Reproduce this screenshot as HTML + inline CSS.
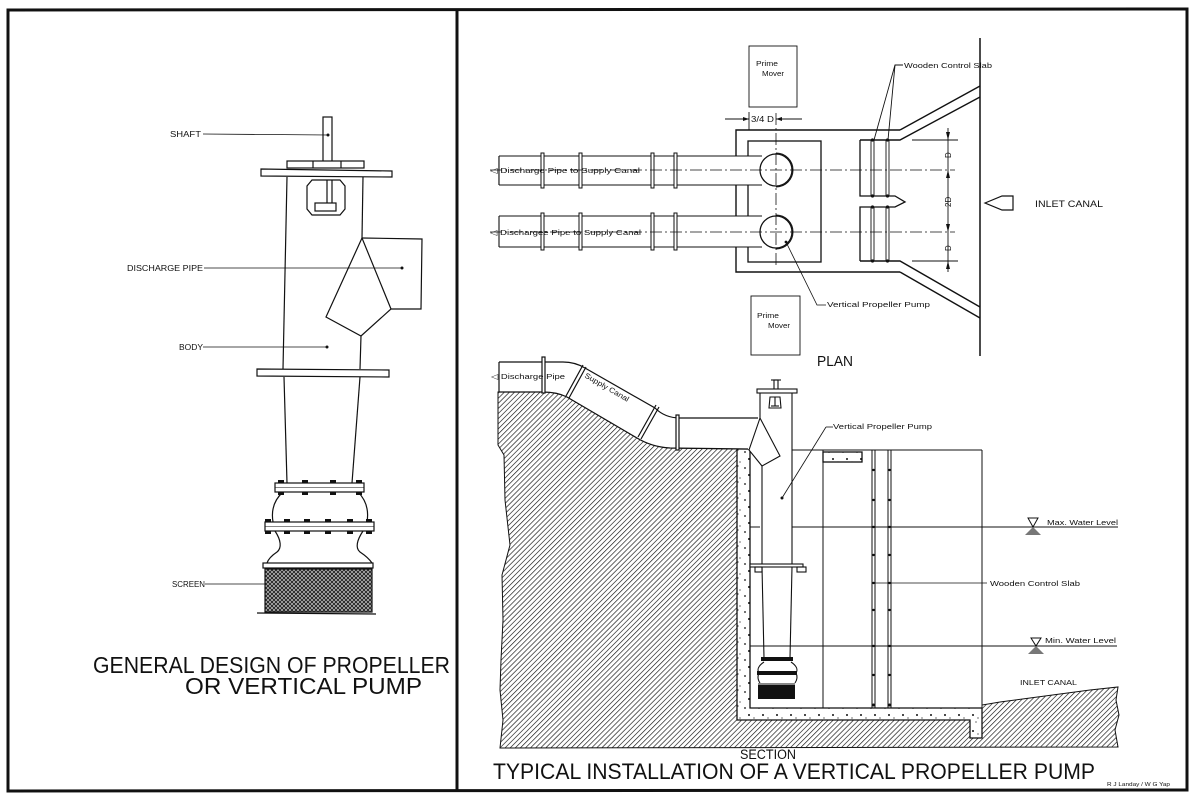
<!DOCTYPE html>
<html>
<head>
<meta charset="utf-8">
<style>
  html,body{margin:0;padding:0;background:#fff;}
  svg{display:block;}
  text{font-family:"Liberation Sans",sans-serif;fill:#111;}
</style>
</head>
<body>
<svg width="1200" height="809" viewBox="0 0 1200 809" xmlns="http://www.w3.org/2000/svg">
  <defs>
    <pattern id="hatch" patternUnits="userSpaceOnUse" width="3.6" height="3.6" patternTransform="rotate(45)">
      <line x1="0" y1="0" x2="0" y2="3.6" stroke="#111" stroke-width="1.3"/>
    </pattern>
    <pattern id="screen" patternUnits="userSpaceOnUse" width="4" height="4">
      <rect width="4" height="4" fill="#222"/>
      <path d="M0,4 L4,0 M0,0 L4,4" stroke="#ddd" stroke-width="0.6"/>
    </pattern>
    <pattern id="conc" patternUnits="userSpaceOnUse" width="14" height="16">
      <circle cx="3" cy="4" r="0.9" fill="#111"/>
      <circle cx="10" cy="2" r="0.6" fill="#111"/>
      <circle cx="7" cy="11" r="1" fill="#111"/>
      <circle cx="12" cy="14" r="0.6" fill="#111"/>
    </pattern>
  </defs>

  <rect width="1200" height="809" fill="#fff"/>

  <!-- Frame -->
  <g stroke="#111" stroke-width="3" fill="none">
    <path d="M8,10 L1187,9 L1187,790 L8,791 Z"/>
    <line x1="457" y1="9" x2="457" y2="791"/>
  </g>

  <!-- ================= LEFT PANEL: pump ================= -->
  <g stroke="#111" stroke-width="1.2" fill="none">
    <!-- shaft -->
    <rect x="323" y="117" width="9" height="45" fill="#fff"/>
    <!-- top cap -->
    <rect x="287" y="161" width="77" height="7" fill="#fff"/>
    <line x1="313" y1="161" x2="313" y2="168"/>
    <line x1="341" y1="161" x2="341" y2="168"/>
    <!-- top flange -->
    <path d="M261,169 L392,171 L392,177 L261,176 Z" fill="#fff"/>
    <!-- body -->
    <line x1="287" y1="177" x2="283" y2="369"/>
    <line x1="363" y1="177" x2="362" y2="238"/>
    <line x1="361" y1="336" x2="360" y2="369"/>
    <!-- window -->
    <path d="M312,180 L340,180 L345,186 L345,209 L340,215 L312,215 L307,209 L307,186 Z"/>
    <line x1="327" y1="180" x2="327" y2="203"/>
    <line x1="332" y1="180" x2="332" y2="203"/>
    <rect x="315" y="203" width="21" height="8"/>
    <!-- discharge -->
    <path d="M362,238 L326,317 L361,336 L391,309 Z" fill="#fff"/>
    <path d="M362,238 L422,239 L421,309 L391,309"/>
    <!-- lower flange -->
    <path d="M257,369 L389,370 L389,377 L257,376 Z" fill="#fff"/>
    <!-- lower body -->
    <line x1="284" y1="377" x2="287" y2="483"/>
    <line x1="360" y1="377" x2="352" y2="483"/>
    <!-- bolted flange 1 -->
    <rect x="275" y="483" width="89" height="9" fill="#fff"/>
    <line x1="275" y1="487.5" x2="364" y2="487.5" stroke-width="0.6"/>
    <!-- bell -->
    <path d="M283,492 C274,500 271,510 273,522"/>
    <path d="M358,492 C366,500 369,510 367,522"/>
    <!-- bolted flange 2 -->
    <rect x="265" y="522" width="109" height="9" fill="#fff"/>
    <line x1="265" y1="526.5" x2="374" y2="526.5" stroke-width="0.6"/>
    <path d="M275,531 C281,540 282,548 277,552 C271,556 268,560 267,563"/>
    <path d="M363,531 C357,540 355,548 360,552 C366,556 370,560 372,563"/>
    <!-- screen -->
    <rect x="263" y="563" width="110" height="5" fill="#fff"/>
    <rect x="265" y="569" width="107" height="43" fill="url(#screen)"/>
    <line x1="257" y1="613" x2="376" y2="614"/>
  </g>
  <!-- bolts -->
  <g fill="#111">
    <rect x="278" y="480" width="6" height="3"/><rect x="302" y="480" width="6" height="3"/><rect x="330" y="480" width="6" height="3"/><rect x="356" y="480" width="6" height="3"/>
    <rect x="278" y="492" width="6" height="3"/><rect x="302" y="492" width="6" height="3"/><rect x="330" y="492" width="6" height="3"/><rect x="356" y="492" width="6" height="3"/>
    <rect x="265" y="519" width="6" height="3"/><rect x="284" y="519" width="6" height="3"/><rect x="304" y="519" width="6" height="3"/><rect x="325" y="519" width="6" height="3"/><rect x="347" y="519" width="6" height="3"/><rect x="366" y="519" width="6" height="3"/>
    <rect x="265" y="531" width="6" height="3"/><rect x="284" y="531" width="6" height="3"/><rect x="304" y="531" width="6" height="3"/><rect x="325" y="531" width="6" height="3"/><rect x="347" y="531" width="6" height="3"/><rect x="366" y="531" width="6" height="3"/>
  </g>
  <!-- left labels -->
  <g stroke="#111" stroke-width="0.8">
    <line x1="203" y1="134" x2="328" y2="135"/>
    <line x1="204" y1="268" x2="402" y2="268"/>
    <line x1="203" y1="347" x2="327" y2="347"/>
    <line x1="205" y1="584" x2="265" y2="584"/>
  </g>
  <g fill="#111">
    <circle cx="328" cy="135" r="1.5"/>
    <circle cx="402" cy="268" r="1.5"/>
    <circle cx="327" cy="347" r="1.5"/>
  </g>
  <g font-size="8">
    <text x="170" y="137" textLength="31" lengthAdjust="spacingAndGlyphs">SHAFT</text>
    <text x="127" y="271" textLength="76" lengthAdjust="spacingAndGlyphs">DISCHARGE PIPE</text>
    <text x="179" y="350" textLength="24" lengthAdjust="spacingAndGlyphs">BODY</text>
    <text x="172" y="587" textLength="33" lengthAdjust="spacingAndGlyphs">SCREEN</text>
  </g>
  <text x="93" y="673" font-size="23.5" textLength="357" lengthAdjust="spacingAndGlyphs">GENERAL DESIGN OF PROPELLER</text>
  <text x="185" y="694" font-size="23.5" textLength="237" lengthAdjust="spacingAndGlyphs">OR VERTICAL PUMP</text>

  <!-- ================= RIGHT PANEL: PLAN ================= -->
  <g stroke="#111" stroke-width="0.9" fill="none">
    <!-- prime movers -->
    <rect x="749" y="46" width="48" height="61"/>
    <rect x="751" y="296" width="49" height="59"/>
    <!-- 3/4 D dim -->
    <line x1="725" y1="119" x2="749" y2="119"/>
    <line x1="776" y1="119" x2="802" y2="119"/>
    <line x1="749" y1="112" x2="749" y2="130"/>
    <!-- wall at right -->
    <line x1="980" y1="38" x2="980" y2="356" stroke-width="1.5"/>
    <!-- outer rect & wing walls -->
    <path d="M900,130 L736,130 L736,272 L900,272" stroke-width="1.4"/>
    <path d="M900,130 L980,86" stroke-width="1.4"/>
    <path d="M900,272 L980,318" stroke-width="1.4"/>
    <path d="M860,140 L900,140 L980,97" stroke-width="1.4"/>
    <path d="M860,261 L900,261 L980,307" stroke-width="1.4"/>
    <!-- inner rect -->
    <rect x="748" y="141" width="73" height="121" stroke-width="1.3"/>
    <!-- slab boxes -->
    <path d="M860,140 L860,196 L895,196 L905,202 L895,207 L860,207 L860,261" stroke-width="1.3"/>
    <!-- slabs -->
    <line x1="871" y1="140" x2="871" y2="196"/><line x1="874" y1="140" x2="874" y2="196"/>
    <line x1="886" y1="140" x2="886" y2="196"/><line x1="889" y1="140" x2="889" y2="196"/>
    <line x1="871" y1="207" x2="871" y2="261"/><line x1="874" y1="207" x2="874" y2="261"/>
    <line x1="886" y1="207" x2="886" y2="261"/><line x1="889" y1="207" x2="889" y2="261"/>
    <!-- slab label leaders -->
    <path d="M903,65 L895,65 L874,140"/>
    <path d="M895,65 L888,140"/>
    <!-- dimension -->
    <line x1="948" y1="128" x2="948" y2="272"/>
    <line x1="912" y1="140" x2="958" y2="140"/>
    <line x1="912" y1="261" x2="958" y2="261"/>
    <!-- inlet arrow -->
    <path d="M985,203 L1002,196 L1013,196 L1013,210 L1002,210 Z" stroke-width="1.2"/>
  </g>
  <g fill="#111">
    <circle cx="872.5" cy="140" r="1.6"/><circle cx="887.5" cy="140" r="1.6"/>
    <circle cx="872.5" cy="196" r="1.6"/><circle cx="887.5" cy="196" r="1.6"/>
    <circle cx="872.5" cy="207" r="1.6"/><circle cx="887.5" cy="207" r="1.6"/>
    <circle cx="872.5" cy="261" r="1.6"/><circle cx="887.5" cy="261" r="1.6"/>
    <path d="M749,119 l-6,-2 l0,4 Z"/>
    <path d="M776,119 l6,-2 l0,4 Z"/>
    <path d="M948,140 l-2,-8 l4,0 Z"/><path d="M948,170 l-2,8 l4,0 Z"/>
    <path d="M948,232 l-2,-8 l4,0 Z"/><path d="M948,261 l-2,8 l4,0 Z"/>
  </g>
  <!-- pipes (plan) -->
  <g stroke="#111" stroke-width="1.1" fill="#fff">
    <path d="M499,156 L762,156 M499,185 L762,185 M499,156 L499,185" />
    <rect x="499" y="156" width="263" height="29" stroke="none"/>
    <path d="M499,156 L762,156 M499,185 L762,185 M499,156 L499,185" fill="none"/>
    <rect x="499" y="216" width="263" height="31" stroke="none"/>
    <path d="M499,216 L762,216 M499,247 L762,247 M499,216 L499,247" fill="none"/>
  </g>
  <g stroke="#111" stroke-width="1" fill="#fff">
    <rect x="541" y="153" width="3" height="35"/><rect x="579" y="153" width="3" height="35"/>
    <rect x="651" y="153" width="3" height="35"/><rect x="674" y="153" width="3" height="35"/>
    <rect x="541" y="213" width="3" height="37"/><rect x="579" y="213" width="3" height="37"/>
    <rect x="651" y="213" width="3" height="37"/><rect x="674" y="213" width="3" height="37"/>
    <!-- circles -->
    <circle cx="776" cy="170" r="16" stroke-width="1.3"/>
    <path d="M776,153 A17,17 0 0 1 776,187" fill="none"/>
    <circle cx="776" cy="232" r="16" stroke-width="1.3"/>
    <path d="M776,215 A17,17 0 0 1 776,249" fill="none"/>
  </g>
  <!-- centerlines -->
  <g stroke="#111" stroke-width="0.8" stroke-dasharray="12 3 2 3" fill="none">
    <line x1="490" y1="170" x2="955" y2="170"/>
    <line x1="490" y1="232" x2="955" y2="232"/>
    <line x1="776" y1="113" x2="776" y2="268"/>
  </g>
  <!-- pump leader -->
  <path d="M786,242 L817,305 L826,305" stroke="#111" stroke-width="0.8" fill="none"/>
  <circle cx="786" cy="242" r="1.4" fill="#111"/>
  <g font-size="7.5">
    <text x="756" y="66" textLength="22" lengthAdjust="spacingAndGlyphs">Prime</text>
    <text x="762" y="76" textLength="22" lengthAdjust="spacingAndGlyphs">Mover</text>
    <text x="757" y="318" textLength="22" lengthAdjust="spacingAndGlyphs">Prime</text>
    <text x="768" y="328" textLength="22" lengthAdjust="spacingAndGlyphs">Mover</text>
    <text x="751" y="122" font-size="8.5" textLength="23" lengthAdjust="spacingAndGlyphs">3/4 D</text>
    <text x="904" y="68" textLength="88" lengthAdjust="spacingAndGlyphs">Wooden Control Slab</text>
    <text x="827" y="307" textLength="103" lengthAdjust="spacingAndGlyphs">Vertical Propeller Pump</text>
    <text x="490" y="173" textLength="150" lengthAdjust="spacingAndGlyphs">◁ Discharge  Pipe  to  Supply  Canal</text>
    <text x="490" y="235" textLength="151" lengthAdjust="spacingAndGlyphs">◁ Dischargee  Pipe  to  Supply  Canal</text>
  </g>
  <g font-size="8">
    <text transform="translate(951,158) rotate(-90)">D</text>
    <text transform="translate(951,207) rotate(-90)">2D</text>
    <text transform="translate(951,251) rotate(-90)">D</text>
  </g>
  <text x="1035" y="207" font-size="9" textLength="68" lengthAdjust="spacingAndGlyphs">INLET   CANAL</text>
  <text x="817" y="366" font-size="14.5" textLength="36" lengthAdjust="spacingAndGlyphs">PLAN</text>

  <!-- ================= RIGHT PANEL: SECTION ================= -->
  <!-- ground hatch -->
  <path d="M498,392 L543,392 Q557,392 567,397 L637,438 Q652,447 670,448 L737,449 L737,720 L970,720 L970,738 L982,738 L982,705 L1000,702 L1030,698 L1060,694 L1090,690 L1118,687 L1116,700 L1119,715 L1115,730 L1118,747 L500,748 L503,720 L500,690 L501,660 L503,620 L502,575 L510,545 L505,500 L504,455 L498,445 Z" fill="url(#hatch)" stroke="#111" stroke-width="1"/>
  <!-- concrete -->
  <path d="M737,449 L750,449 L750,708 L982,708 L982,738 L970,738 L970,720 L737,720 Z" fill="#fff"/>
  <path d="M737,449 L750,449 L750,708 L982,708 L982,738 L970,738 L970,720 L737,720 Z" fill="url(#conc)" stroke="#111" stroke-width="1.3"/>

  <!-- pipe section -->
  <path d="M499,362 L563,362 Q575,362 585,368 L655,408 Q665,418 680,418 L758,418 L749,449 L670,448 Q652,447 637,438 L567,397 Q557,392 543,392 L499,392 Z" fill="#fff" stroke="none"/>
  <g stroke="#111" stroke-width="1.2" fill="none">
    <path d="M499,362 L563,362 Q575,362 585,368 L655,408 Q665,418 680,418 L758,418"/>
    <path d="M499,392 L543,392 Q557,392 567,397 L637,438 Q652,447 670,448 L748,449"/>
    <line x1="499" y1="362" x2="499" y2="392"/>
    <rect x="542" y="357" width="3" height="36" fill="#fff"/>
    <path d="M583,365 L566,396 M586,367 L569,398" />
    <path d="M656,405 L638,437 M659,407 L641,439" />
    <rect x="676" y="415" width="3" height="35" fill="#fff"/>
  </g>
  <g font-size="7.5">
    <text x="491" y="379" textLength="74" lengthAdjust="spacingAndGlyphs">◁ Discharge  Pipe</text>
    <text transform="translate(584,377) rotate(30)" textLength="50" lengthAdjust="spacingAndGlyphs">Supply  Canal</text>
  </g>

  <!-- pump section -->
  <g stroke="#111" stroke-width="1.1" fill="none">
    <rect x="774" y="380" width="4" height="10" fill="#fff"/>
    <line x1="771" y1="380" x2="781" y2="380"/>
    <rect x="757" y="389" width="40" height="4" fill="#fff"/>
    <line x1="760" y1="393" x2="760" y2="418"/>
    <line x1="762" y1="466" x2="762" y2="564"/>
    <line x1="792" y1="393" x2="792" y2="564"/>
    <path d="M770,397 L780,397 L781,408 L769,408 Z"/>
    <line x1="775" y1="397" x2="775" y2="406"/>
    <line x1="771" y1="406" x2="779" y2="406"/>
    <path d="M760,418 L749,450 L762,466 L780,456 Z" fill="#fff"/>
    <rect x="750" y="564" width="53" height="3" fill="#fff"/>
    <rect x="755" y="567" width="7" height="5"/>
    <rect x="797" y="567" width="9" height="5"/>
    <line x1="762" y1="567" x2="764" y2="658"/>
    <line x1="792" y1="567" x2="790" y2="658"/>
    <path d="M764,662 C758,666 757,670 759,673 C757,677 758,680 760,683"/>
    <path d="M791,662 C797,666 798,670 796,673 C798,677 797,680 795,683"/>
  </g>
  <g fill="#111">
    <rect x="761" y="657" width="32" height="4"/>
    <rect x="757" y="671" width="40" height="4"/>
    <rect x="758" y="683" width="37" height="16"/>
  </g>
  <line x1="758" y1="684" x2="795" y2="684" stroke="#fff" stroke-width="1"/>

  <!-- section lines -->
  <g stroke="#111" stroke-width="1" fill="none">
    <line x1="792" y1="450" x2="982" y2="450"/>
    <line x1="823" y1="450" x2="823" y2="708"/>
    <line x1="982" y1="450" x2="982" y2="705"/>
    <line x1="792" y1="527" x2="1118" y2="527"/>
    <line x1="750" y1="527" x2="760" y2="527"/>
    <line x1="750" y1="646" x2="1117" y2="646"/>
    <line x1="875" y1="583" x2="987" y2="583" stroke-width="0.8"/>
    <line x1="872" y1="450" x2="872" y2="708"/><line x1="875" y1="450" x2="875" y2="708"/>
    <line x1="888" y1="450" x2="888" y2="708"/><line x1="891" y1="450" x2="891" y2="708"/>
    <rect x="823" y="452" width="39" height="10" fill="url(#conc)" stroke-width="1.3"/>
    <path d="M826,427 L782,498" stroke-width="0.8"/>
    <line x1="826" y1="427" x2="833" y2="427" stroke-width="0.8"/>
  </g>
  <g fill="#111">
    <circle cx="782" cy="498" r="1.5"/>
    <circle cx="873.5" cy="470" r="1.2"/><circle cx="873.5" cy="500" r="1.2"/><circle cx="873.5" cy="527" r="1.2"/><circle cx="873.5" cy="555" r="1.2"/><circle cx="873.5" cy="583" r="1.2"/><circle cx="873.5" cy="610" r="1.2"/><circle cx="873.5" cy="646" r="1.2"/><circle cx="873.5" cy="675" r="1.2"/><circle cx="873.5" cy="705" r="1.5"/>
    <circle cx="889.5" cy="470" r="1.2"/><circle cx="889.5" cy="500" r="1.2"/><circle cx="889.5" cy="527" r="1.2"/><circle cx="889.5" cy="555" r="1.2"/><circle cx="889.5" cy="583" r="1.2"/><circle cx="889.5" cy="610" r="1.2"/><circle cx="889.5" cy="646" r="1.2"/><circle cx="889.5" cy="675" r="1.2"/><circle cx="889.5" cy="705" r="1.5"/>
  </g>
  <!-- water level symbols -->
  <g stroke="#111" stroke-width="1" fill="none">
    <path d="M1028,518 L1038,518 L1033,527 Z"/>
    <path d="M1031,648 L1041,648 L1036,656 Z" transform="translate(0,-10)"/>
  </g>
  <g fill="#777">
    <path d="M1033,527 L1025,535 L1041,535 Z"/>
    <path d="M1036,646 L1028,654 L1044,654 Z"/>
  </g>
  <g font-size="7.5">
    <text x="833" y="429" textLength="99" lengthAdjust="spacingAndGlyphs">Vertical  Propeller  Pump</text>
    <text x="1047" y="525" textLength="71" lengthAdjust="spacingAndGlyphs">Max.  Water  Level</text>
    <text x="990" y="586" textLength="90" lengthAdjust="spacingAndGlyphs">Wooden  Control  Slab</text>
    <text x="1045" y="643" textLength="71" lengthAdjust="spacingAndGlyphs">Min.  Water  Level</text>
    <text x="1020" y="685" textLength="57" lengthAdjust="spacingAndGlyphs">INLET    CANAL</text>
    <text x="1107" y="786" font-size="5" textLength="63" lengthAdjust="spacingAndGlyphs">R J Landay / W G Yap</text>
  </g>
  <text x="740" y="759" font-size="13.5" textLength="56" lengthAdjust="spacingAndGlyphs">SECTION</text>
  <text x="493" y="779" font-size="22" textLength="602" lengthAdjust="spacingAndGlyphs">TYPICAL INSTALLATION OF A VERTICAL PROPELLER PUMP</text>
</svg>
</body>
</html>
